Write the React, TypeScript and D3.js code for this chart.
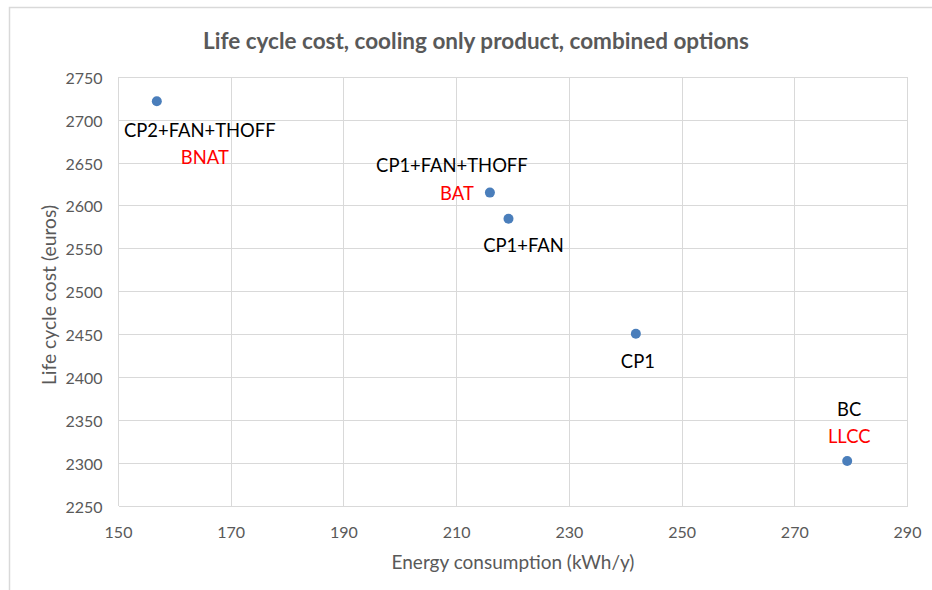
import * as d3 from 'd3';

// ---------------------------------------------------------------------------
// Data
// ---------------------------------------------------------------------------

const optionNames = ['CP2+FAN+THOFF', 'CP1+FAN+THOFF', 'CP1+FAN', 'CP1', 'BC'];
const energyKwh = [156.8, 215.9, 219.2, 241.8, 279.3];
const lifeCycleCost = [2722, 2615.5, 2585, 2451, 2302.5];
const tagNames = ['BNAT', 'BAT', '', '', 'LLCC'];

const xTicks = [150, 170, 190, 210, 230, 250, 270, 290];
const yTicks = [2250, 2300, 2350, 2400, 2450, 2500, 2550, 2600, 2650, 2700, 2750];

// label offsets relative to the marker (px)
const nameOffsets: [number, number][] = [
  [43, 29],
  [-38, -28],
  [15, 26],
  [2, 27],
  [2, -52],
];
const tagOffsets: [number, number][] = [
  [48, 56],
  [-33, 0],
  [0, 0],
  [0, 0],
  [2, -25],
];

// ---------------------------------------------------------------------------
// Style
// ---------------------------------------------------------------------------

const FONT = 'Lato, "Open Sans", sans-serif';
const GRID = '#d9d9d9';
const TEXT = '#595959';
const MARKER = '#4A7EBB';

export default function App() {
  const W = 932;
  const H = 590;
  const margin = { left: 118.5, right: 24.5, top: 77.3, bottom: 84 };

  const x = d3.scaleLinear().domain([150, 290]).range([margin.left, W - margin.right]);
  const y = d3.scaleLinear().domain([2250, 2750]).range([H - margin.bottom, margin.top]);

  const points = optionNames.map((name, i) => ({
    name,
    tag: tagNames[i],
    cx: x(energyKwh[i]),
    cy: y(lifeCycleCost[i]),
    nameOff: nameOffsets[i],
    tagOff: tagOffsets[i],
  }));

  return (
    <svg width={W} height={H} style={{ display: 'block', position: 'absolute', left: 0, top: 0 }} fontFamily={FONT}>
      <rect x={0} y={0} width={W} height={H} fill="#fff" />
      {/* chart frame */}
      <rect x={9.5} y={7.5} width={W + 20} height={H + 20} fill="none" stroke={GRID} strokeWidth={1.5} />

      {/* title */}
      <text x={476} y={40} textAnchor="middle" dominantBaseline="central" fontSize={22.5} fontWeight="bold" fill={TEXT}>
        Life cycle cost, cooling only product, combined options
      </text>

      {/* grid */}
      {yTicks.map((t) => (
        <line key={`gy${t}`} x1={x(150)} x2={x(290)} y1={y(t)} y2={y(t)} stroke={GRID} strokeWidth={1} shapeRendering="crispEdges" />
      ))}
      {xTicks.map((t) => (
        <line key={`gx${t}`} x1={x(t)} x2={x(t)} y1={y(2250)} y2={y(2750)} stroke={GRID} strokeWidth={1} shapeRendering="crispEdges" />
      ))}

      {/* tick labels */}
      {yTicks.map((t) => (
        <text key={`ty${t}`} x={x(150) - 16} y={y(t)} textAnchor="end" dominantBaseline="central" fontSize={16} fill={TEXT}>
          {t}
        </text>
      ))}
      {xTicks.map((t) => (
        <text key={`tx${t}`} x={x(t)} y={y(2250) + 25} textAnchor="middle" dominantBaseline="central" fontSize={16} fill={TEXT}>
          {t}
        </text>
      ))}

      {/* axis titles */}
      <text x={x(220)} y={561} textAnchor="middle" dominantBaseline="central" fontSize={19} fill={TEXT}>
        Energy consumption (kWh/y)
      </text>
      <text
        transform={`translate(48, 295) rotate(-90)`}
        textAnchor="middle"
        dominantBaseline="central"
        fontSize={19.3}
        fill={TEXT}
      >
        Life cycle cost (euros)
      </text>

      {/* markers */}
      {points.map((p) => (
        <circle key={p.name} cx={p.cx} cy={p.cy} r={5} fill={MARKER} />
      ))}

      {/* labels */}
      {points.map((p) => (
        <g key={`l${p.name}`}>
          <text x={p.cx + p.nameOff[0]} y={p.cy + p.nameOff[1]} textAnchor="middle" dominantBaseline="central" fontSize={18.4} fill="#000">
            {p.name}
          </text>
          {p.tag && (
            <text x={p.cx + p.tagOff[0]} y={p.cy + p.tagOff[1]} textAnchor="middle" dominantBaseline="central" fontSize={18.4} fill="#ff0000">
              {p.tag}
            </text>
          )}
        </g>
      ))}
    </svg>
  );
}
